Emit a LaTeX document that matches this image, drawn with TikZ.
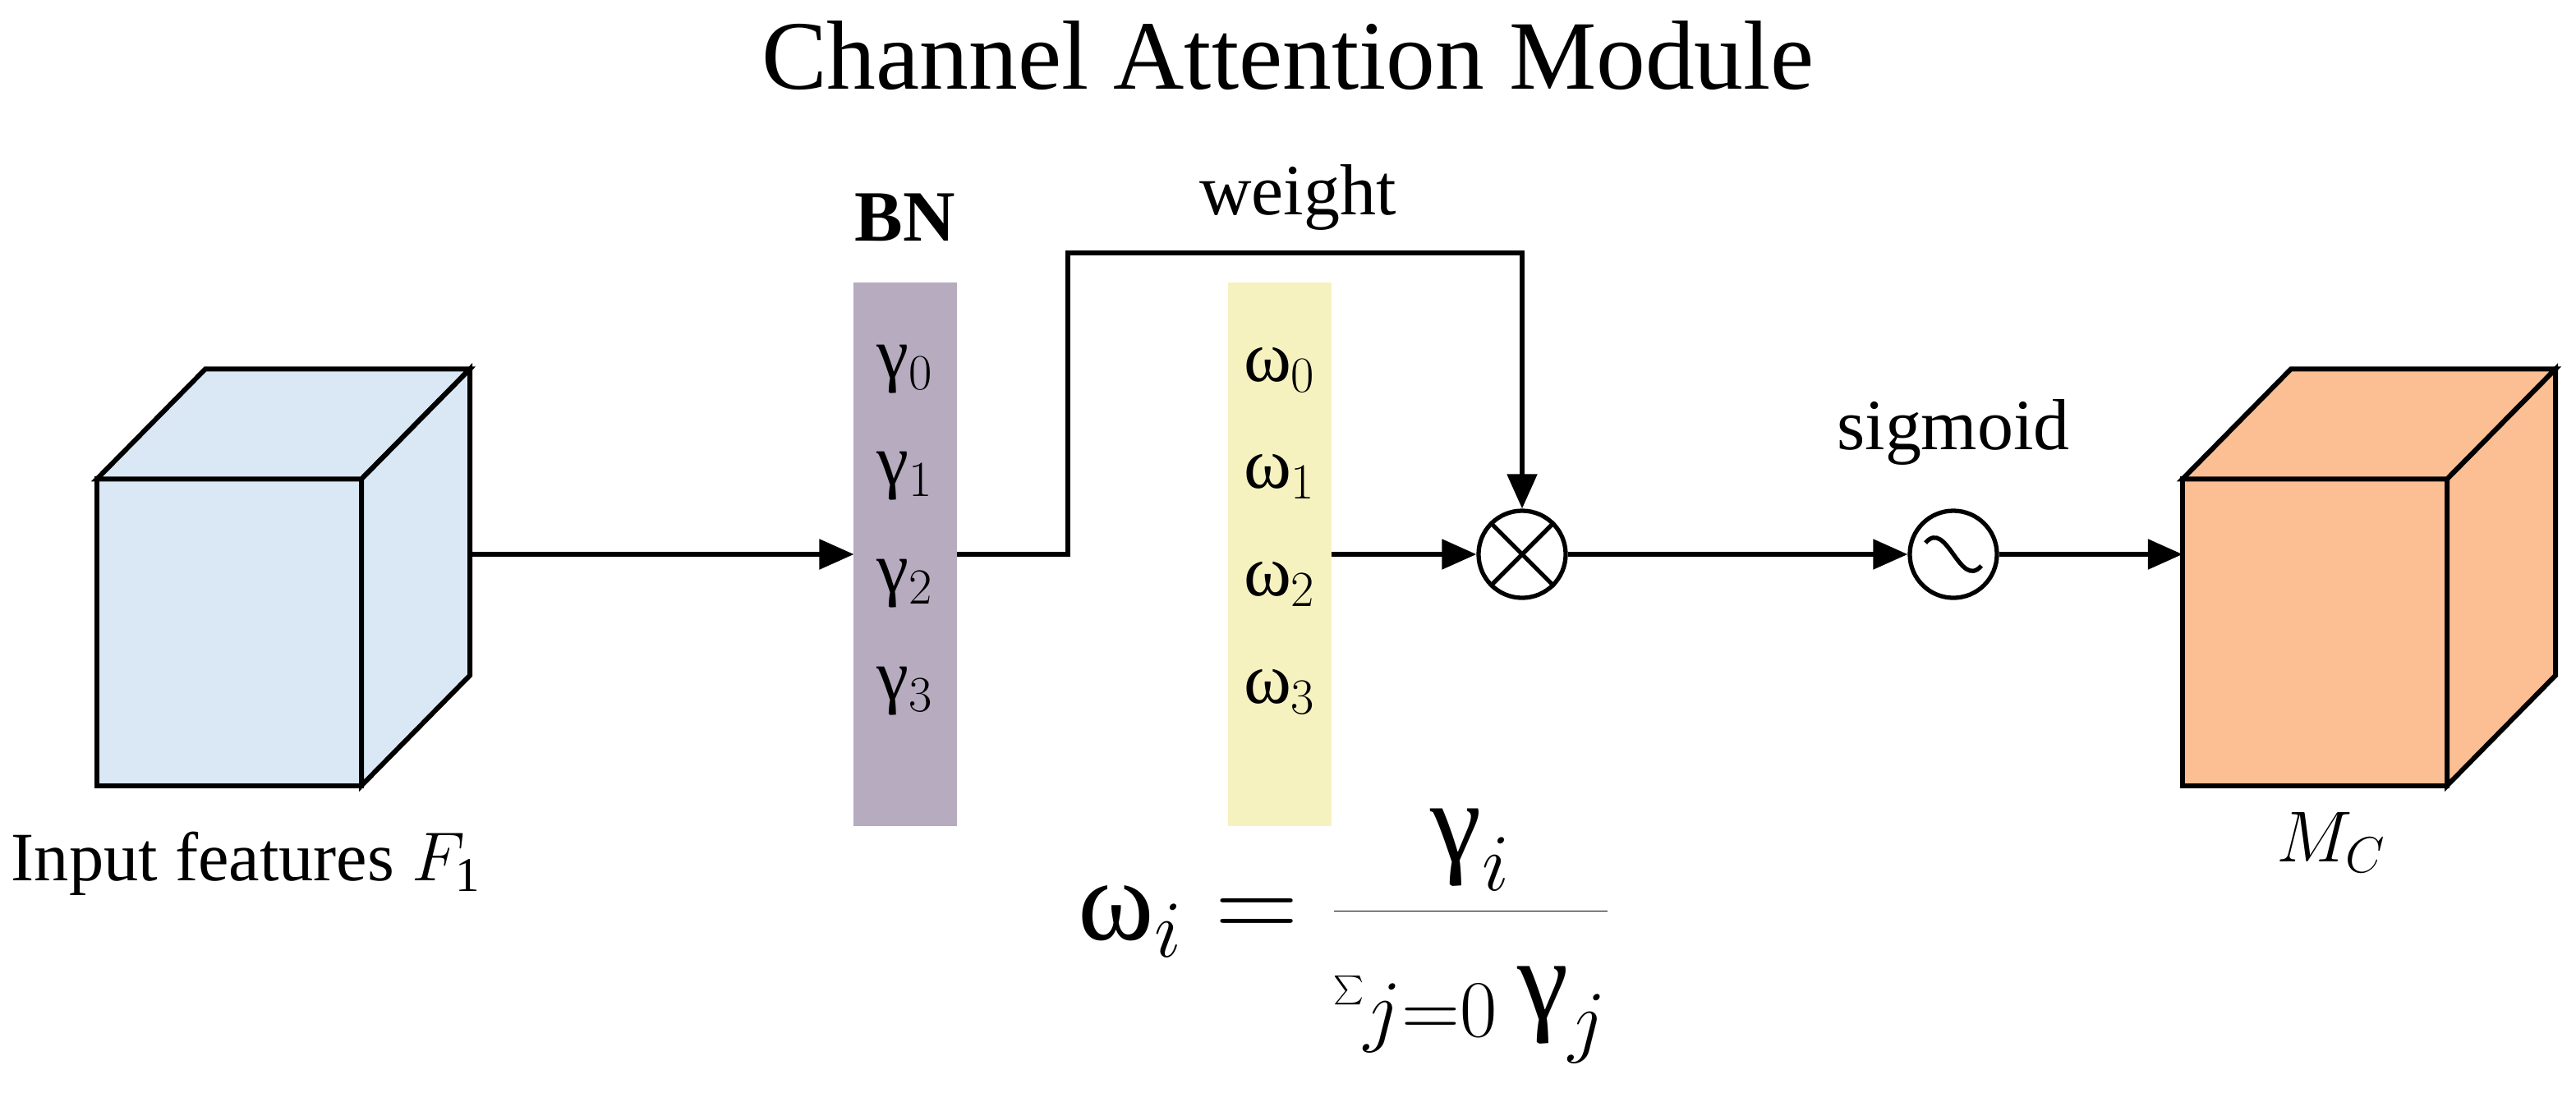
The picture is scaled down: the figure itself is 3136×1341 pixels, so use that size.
\RequirePackage{fix-cm}
\documentclass[tikz,border=0pt]{standalone}
\usepackage{fontspec}
\setmainfont{Liberation Serif}
\usetikzlibrary{arrows.meta,positioning,calc}
\definecolor{inblue}{HTML}{DAE8F5}
\definecolor{bnpurple}{HTML}{B6ABBF}
\definecolor{wyellow}{HTML}{F5F2C0}
\definecolor{outorange}{HTML}{FBBF93}
\begin{document}
\begin{tikzpicture}
    [x=0.01cm,y=-0.01cm,
    box/.style={draw,line width=1.7pt,minimum width=3.22cm,minimum height=3.73cm,inner sep=0pt,outer sep=0pt},
    face/.style={draw,line width=1.7pt,line join=miter},
    bar/.style={minimum width=1.25cm,minimum height=6.62cm,inner sep=0pt,outer sep=0pt},
    op/.style={circle,draw,line width=1.5pt,minimum size=1.06cm,inner sep=0pt},
    arrow/.style={-{Triangle[length=0.42cm,width=0.36cm]},line width=1.5pt},
    lbl/.style={font=\fontsize{25}{30}\selectfont},
    big/.style={font=\fontsize{34}{40}\selectfont}]

    \useasboundingbox (0,0) rectangle (3136,1341);

    %%% title
    \node[big] (title) at (1568,68) {Channel Attention Module};

    %%% input cube
    \node[box,fill=inblue] (in) at (279,770) {};
    \draw[face,fill=inblue] (in.north west) -- ++(132,-134) -- ++(322,0) -- (in.north east) -- cycle;
    \draw[face,fill=inblue] (in.north east) -- ++(132,-134) -- ++(0,373) -- (in.south east) -- cycle;
    \coordinate (inSide) at (574,675);
    \node[lbl,font=\fontsize{24}{28}\selectfont] (inLabel) at (300,1052) {Input features $F_{\mathrm{1}}$};

    %%% BN bar and weight bar
    \node[bar,fill=bnpurple] (bn) at (1102,675) {};
    \node[lbl,font=\fontsize{25}{30}\selectfont\bfseries] (bnLabel) at (1102,265) {BN};
    \node[bar,fill=wyellow] (w) at (1558,675) {};
    \node[lbl] (wLabel) at (1580,240) {weight};
    \foreach \i/\y in {0/450,1/580,2/711,3/842} {
        \node[lbl] (g\i) at (1102,\y) {γ$_{\i}$};
        \node[lbl] (w\i) at (1558,\y) {ω$_{\i}$};
    }

    %%% operators
    \node[op] (ot) at (1853,675) {};
    \draw[line width=1.5pt] (ot.north west) -- (ot.south east) (ot.north east) -- (ot.south west);
    \node[op] (sg) at (2378,675) {};
    \draw[line width=1.5pt] ($(sg.center)+(-34,-14)$) .. controls ($(sg.center)+(-8,-44)$) and ($(sg.center)+(8,44)$) .. ($(sg.center)+(34,14)$);
    \node[lbl] (sgLabel) at (2378,526) {sigmoid};

    %%% output cube
    \node[box,fill=outorange] (out) at (2818,770) {};
    \draw[face,fill=outorange] (out.north west) -- ++(132,-134) -- ++(322,0) -- (out.north east) -- cycle;
    \draw[face,fill=outorange] (out.north east) -- ++(132,-134) -- ++(0,373) -- (out.south east) -- cycle;
    \node[lbl] (outLabel) at (2838,1026) {$M_C$};

    %%% formula
    \node[font=\fontsize{40}{48}\selectfont] (eq) at (1637,1140)
        {ω$_i = \displaystyle\frac{\mbox{γ}_i}{\textstyle\sum_{j=0}\mbox{γ}_j}$};

    %% lines
    \coordinate (turn) at (1300,308);
    \draw[arrow] (inSide) -- (bn.west);
    \draw[arrow] (bn.east) -| (turn) -| (ot.north);
    \draw[arrow] (w.east) -- (ot.west);
    \draw[arrow] (ot.east) -- (sg.west);
    \draw[arrow] (sg.east) -- (out.west |- sg.east);
\end{tikzpicture}
\end{document}
